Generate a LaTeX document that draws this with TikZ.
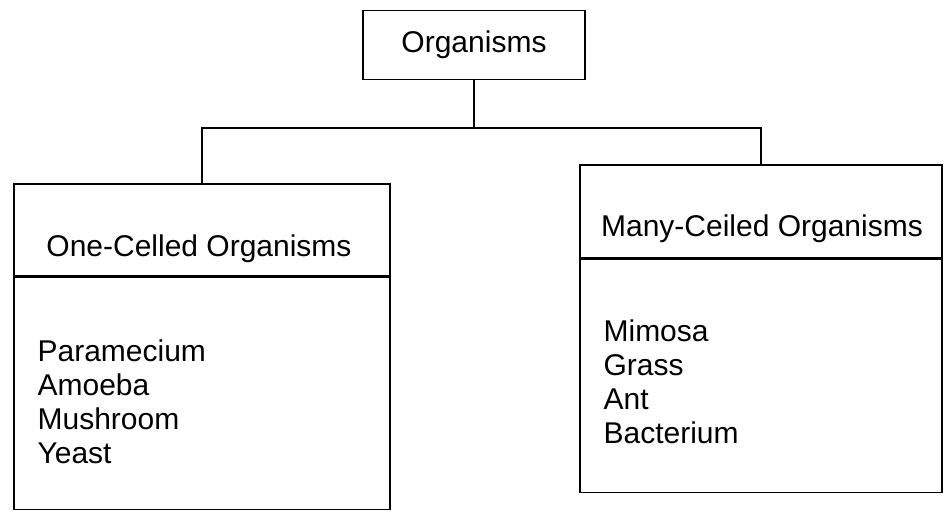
\documentclass[tikz,border=0pt]{standalone}
\usepackage{fontspec}
\setmainfont{Liberation Sans}
\usepackage{tikz}
\usetikzlibrary{positioning}

\begin{document}
\begin{tikzpicture}[x=1pt, y=1pt, line width=1.2pt,
    every node/.style={font=\fontsize{30}{34}\selectfont},
    box/.style={draw, inner sep=0pt},
    items/.style={align=left, inner sep=0pt, anchor=north west}]
    \useasboundingbox (0,0) rectangle (946,514);

    \node[box, minimum width=222, minimum height=69] (org) at (474, 469) {Organisms};

    \node[box, minimum width=376, minimum height=92] (onehead) at (202, 284) {};
    \node[box, minimum width=376, minimum height=232, anchor=north] (onebody) at (onehead.south) {};
    \node[anchor=base] (onetitle) at (199, 257) {One-Celled Organisms};
    \node[items] (onelist) at (37, 175) {Paramecium\\Amoeba\\Mushroom\\Yeast};

    \node[box, minimum width=362, minimum height=93] (manyhead) at (761, 302.5) {};
    \node[box, minimum width=362, minimum height=233, anchor=north] (manybody) at (manyhead.south) {};
    \node[anchor=base] (manytitle) at (762, 277) {Many-Ceiled Organisms};
    \node[items] (manylist) at (603, 195) {Mimosa\\Grass\\Ant\\Bacterium};

    \coordinate (hub) at (474, 386);
    \draw (org.south) -- (hub);
    \draw (onehead.north) |- (hub) -| (manyhead.north);
\end{tikzpicture}
\end{document}
